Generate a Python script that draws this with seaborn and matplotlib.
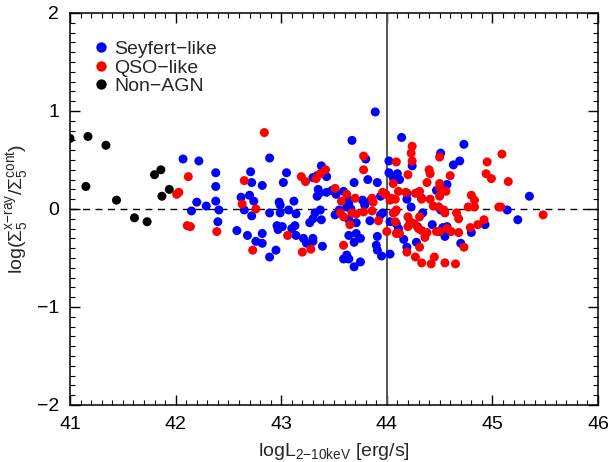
import matplotlib
matplotlib.use('Agg')
import matplotlib.pyplot as plt
import numpy as np
import pandas as pd
import seaborn as sns
from matplotlib.ticker import MultipleLocator

# Data
seyfert_x = [42.07, 42.22, 42.38, 42.38, 42.20, 42.29, 42.15, 42.38, 42.41, 42.40,
             42.58, 42.68, 42.76, 42.71, 42.72, 42.70, 42.62, 42.74, 42.65, 42.72,
             42.82, 42.89, 42.95,
             43.89, 43.67, 42.89, 43.05, 43.02, 42.82, 42.89, 42.98, 42.99, 42.99,
             43.07, 43.12, 43.14, 42.96, 42.97, 43.01, 43.10, 43.13, 42.82, 43.14,
             43.21, 43.24, 43.30, 43.30, 43.39, 43.27, 43.30, 43.32, 43.37, 43.38,
             43.30, 43.34, 43.38, 43.43, 43.35, 43.36, 43.34, 43.43, 43.48, 43.52,
             43.59, 43.69, 43.82, 43.91, 43.80, 44.02, 44.02, 44.06, 43.51, 43.55,
             43.62, 43.66, 43.64, 43.77, 43.79, 43.64, 43.71, 43.64, 43.71, 43.75,
             43.69, 43.62, 43.59, 43.64, 43.69, 43.75, 43.84, 43.91, 43.90, 43.91,
             43.95, 44.03, 43.94, 43.96, 44.03, 44.09, 44.11, 43.85, 43.94, 43.64,
             44.14, 44.73, 44.51, 44.69, 44.63, 44.10, 44.12, 44.24, 44.19, 44.19,
             44.33, 44.47, 44.57, 44.23, 44.34, 44.49, 44.51, 44.43, 44.53, 44.57,
             44.55, 44.29, 44.16, 44.28, 44.19, 44.70, 44.80, 44.93, 45.14, 45.24,
             45.35]
seyfert_y = [0.51, 0.49, 0.37, 0.23, 0.07, 0.03, -0.02, 0.08, -0.01, -0.13,
             -0.22, -0.27, -0.33, 0.38, 0.27, 0.14, 0.12, 0.08, -0.01, -0.07,
             -0.35, -0.49, -0.42,
             0.99, 0.70, 0.52, 0.37, 0.27, 0.24, -0.04, 0.07, 0.04, -0.04,
             -0.01, 0.08, -0.05, -0.17, -0.21, -0.18, -0.20, -0.17, -0.25, -0.27,
             -0.30, -0.35, -0.30, -0.33, -0.38, -0.14, -0.10, -0.04, -0.01, -0.11,
             0.32, 0.34, 0.44, 0.33, 0.20, 0.16, 0.13, 0.17, 0.19, 0.15,
             0.18, 0.27, 0.30, 0.27, 0.51, 0.49, 0.37, 0.32, -0.06, -0.01,
             0.02, 0.00, 0.09, 0.09, 0.04, -0.11, -0.14, -0.27, -0.25, -0.30,
             -0.34, -0.47, -0.51, -0.51, -0.59, -0.54, -0.12, -0.28, -0.37, -0.42,
             -0.48, -0.46, -0.06, -0.04, -0.13, -0.15, -0.20, 0.09, 0.13, 0.06,
             0.73, 0.66, 0.57, 0.49, 0.45, 0.36, 0.30, 0.44, 0.16, 0.10,
             0.11, 0.19, 0.25, 0.02, -0.04, 0.02, -0.01, -0.16, -0.19, -0.18,
             -0.28, -0.18, -0.31, -0.34, -0.39, -0.35, -0.24, -0.16, -0.01, -0.11,
             0.13]

qso_x = [42.12, 42.01, 42.03, 42.11, 42.14, 42.39, 42.65, 42.63, 42.76, 42.73,
         42.84, 43.19, 43.23, 43.33, 43.37, 43.42, 43.06, 43.20, 43.28, 43.51,
         43.57, 43.62, 43.70, 43.78, 43.78, 43.56, 43.59, 43.65, 43.59, 43.67,
         43.71, 43.78, 43.86, 43.87, 43.86, 43.92, 43.96, 43.99, 44.00, 44.06,
         44.09, 44.03, 44.08, 44.08, 44.08, 44.09, 44.11,
         44.24, 44.23, 44.24, 44.50, 45.09, 44.95, 44.94, 44.99, 45.15, 44.40,
         44.41, 44.20, 44.60, 44.38, 44.50, 44.50, 44.56, 44.18, 44.27, 44.31,
         44.33, 44.41, 44.50, 44.80, 44.83, 44.77, 44.83, 45.06, 45.08, 45.48,
         44.44, 44.49, 44.54, 44.55, 44.09, 44.06, 44.20, 44.22, 44.26, 44.20,
         44.12, 44.30, 44.33, 44.31, 44.38, 44.47, 44.50, 44.57, 44.61, 44.68,
         44.66, 44.68, 44.79, 44.86, 44.92, 44.73, 44.36, 44.31, 44.19, 44.27,
         44.33, 44.42, 44.45, 44.55, 44.65, 44.04]
qso_y = [0.33, 0.15, 0.17, -0.17, -0.18, -0.23, 0.29, 0.05, 0.00, -0.42,
         0.78, 0.33, 0.28, 0.31, 0.36, 0.40, -0.27, -0.44, -0.41, 0.21,
         0.08, 0.15, 0.11, 0.54, 0.40, -0.04, -0.08, -0.16, -0.37, -0.04,
         -0.05, -0.03, 0.11, 0.07, -0.02, -0.12, 0.17, 0.15, -0.23, 0.26,
         0.48, 0.09, 0.10, -0.03, -0.13, -0.25, 0.18,
         0.64, 0.57, 0.49, 0.53, 0.56, 0.48, 0.36, 0.31, 0.28, 0.40,
         0.36, 0.35, 0.34, 0.27, 0.26, 0.22, 0.18, 0.17, 0.16, 0.18,
         0.10, 0.10, 0.13, 0.14, 0.09, 0.02, 0.02, 0.02, 0.02, -0.06,
         0.03, 0.02, -0.01, -0.04, -0.01, -0.04, -0.08, -0.13, -0.15, -0.18,
         -0.25, -0.20, -0.22, -0.08, -0.24, -0.23, -0.23, -0.20, -0.23, -0.24,
         -0.04, -0.10, -0.19, -0.16, -0.11, -0.39, -0.29, -0.39, -0.44, -0.49,
         -0.55, -0.56, -0.49, -0.55, -0.56, 0.11]

nonagn_x = [41.00, 41.17, 41.34, 41.15, 41.44, 41.61, 41.73, 41.80, 41.86, 41.94, 41.87]
nonagn_y = [0.72, 0.74, 0.65, 0.23, 0.09, -0.09, -0.13, 0.35, 0.40, 0.20, 0.13]

labels = ['Seyfert\u2212like', 'QSO\u2212like', 'Non\u2212AGN']
colours = ['#0000ff', '#ff0000', '#000000']

df = pd.concat([
    pd.DataFrame({'x': seyfert_x, 'y': seyfert_y, 'cls': labels[0]}),
    pd.DataFrame({'x': qso_x, 'y': qso_y, 'cls': labels[1]}),
    pd.DataFrame({'x': nonagn_x, 'y': nonagn_y, 'cls': labels[2]}),
], ignore_index=True)

sns.set_theme(style='ticks')
plt.rcParams['font.family'] = ['Liberation Sans', 'DejaVu Sans']
plt.rcParams['mathtext.fontset'] = 'custom'
plt.rcParams['mathtext.rm'] = 'Liberation Sans'
plt.rcParams['mathtext.it'] = 'Liberation Sans:italic'
plt.rcParams['mathtext.bf'] = 'Liberation Sans:bold'

fig = plt.figure(figsize=(6.1, 4.62), dpi=100)
ax = fig.add_axes([0.1148, 0.1234, 0.8656, 0.8485])

ax.axvline(44, color='#555555', lw=1.4, zorder=1)
ax.axhline(0, color='black', lw=1.0, ls=(0, (5, 4)), zorder=1)

sns.scatterplot(data=df, x='x', y='y', hue='cls', hue_order=labels,
                palette=dict(zip(labels, colours)), s=42, linewidth=0,
                ax=ax, zorder=3)

ax.set_xlim(41, 46)
ax.set_ylim(-2, 2)
ax.xaxis.set_major_locator(MultipleLocator(1))
ax.xaxis.set_minor_locator(MultipleLocator(0.1))
ax.yaxis.set_major_locator(MultipleLocator(1))
ax.yaxis.set_minor_locator(MultipleLocator(0.1))
ax.tick_params(which='both', direction='in', top=True, right=True,
               labelsize=14, colors='black', pad=8)
ax.tick_params(which='major', length=7, width=1)
ax.tick_params(which='minor', length=3.5, width=0.8)
for sp in ax.spines.values():
    sp.set_linewidth(1.1)
    sp.set_color('black')

ax.set_xlabel('logL$_{\\text{2\u221210keV}}$ [erg/s]', fontsize=14, labelpad=6)
ax.set_ylabel('log($\\Sigma_5^{\\text{x\u2212ray}}/\\Sigma_5^{\\text{cont}}$)',
              fontsize=14, labelpad=5)

ax.legend(loc='upper left', bbox_to_anchor=(0.025, 0.95), frameon=False,
          fontsize=14, handlelength=1.0, handletextpad=0.2, labelspacing=0.05,
          borderaxespad=0, markerscale=1.15)

fig.savefig('out.png', dpi=100)
